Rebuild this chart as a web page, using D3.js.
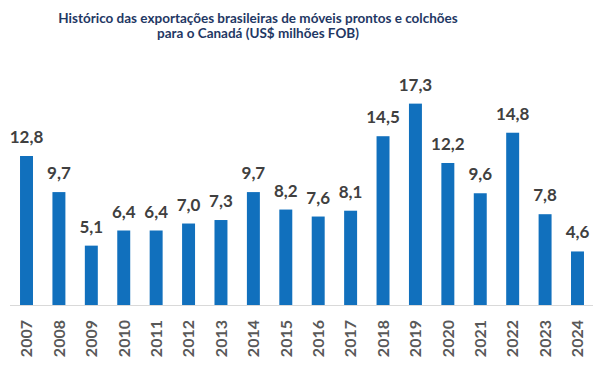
<!DOCTYPE html>
<html>
<head>
<meta charset="utf-8">
<script src="https://cdn.jsdelivr.net/npm/d3@7"></script>
<style>
  body { margin: 0; background: #fff; }
  svg { display: block; }
</style>
</head>
<body>
<svg id="chart" width="610" height="370"></svg>
<script>
const years = ["2007", "2008", "2009", "2010", "2011", "2012", "2013", "2014", "2015",
  "2016", "2017", "2018", "2019", "2020", "2021", "2022", "2023", "2024"];
const values = [12.8, 9.7, 5.1, 6.4, 6.4, 7.0, 7.3, 9.7, 8.2, 7.6, 8.1, 14.5, 17.3, 12.2, 9.6, 14.8, 7.8, 4.6];
const titleLines = [
  "Histórico das exportações brasileiras de móveis prontos e colchões",
  "para o Canadá (US$ milhões FOB)"
];

const svg = d3.select("#chart");
const font = "Lato, 'Open Sans', sans-serif";

const x = d3.scaleBand()
  .domain(years)
  .range([10.3, 593.7])
  .paddingInner(0.6)
  .paddingOuter(0.3);

const y = d3.scaleLinear()
  .domain([0, 20])
  .range([305, 72.2]);

// title
svg.append("text")
  .attr("x", 258)
  .attr("y", 23)
  .attr("text-anchor", "middle")
  .style("font-family", font)
  .style("font-weight", "bold")
  .style("font-size", "13.5px")
  .style("fill", "#1f3864")
  .selectAll("tspan")
  .data(titleLines)
  .enter()
  .append("tspan")
  .attr("x", 258)
  .attr("dy", (d, i) => i === 0 ? 0 : 15)
  .text(d => d);

// bars
svg.selectAll("rect.bar")
  .data(values)
  .enter()
  .append("rect")
  .attr("class", "bar")
  .attr("x", (d, i) => x(years[i]))
  .attr("y", d => y(d))
  .attr("width", x.bandwidth())
  .attr("height", d => y(0) - y(d))
  .style("fill", "#1170bd");

// value labels
svg.selectAll("text.val")
  .data(values)
  .enter()
  .append("text")
  .attr("class", "val")
  .attr("x", (d, i) => x(years[i]) + x.bandwidth() / 2)
  .attr("y", d => y(d) - 13)
  .attr("text-anchor", "middle")
  .style("font-family", font)
  .style("font-weight", "bold")
  .style("font-size", "17px")
  .style("fill", "#404040")
  .text(d => d.toFixed(1).replace(".", ","));

// x axis
const xAxis = svg.append("g")
  .attr("transform", `translate(0,${y(0)})`)
  .call(d3.axisBottom(x).tickSize(0).tickPadding(0));

xAxis.select(".domain")
  .attr("d", `M10,0.5H593`)
  .style("stroke", "#d9d9d9");

xAxis.selectAll(".tick text")
  .attr("transform", "rotate(-90)")
  .attr("x", -15)
  .attr("y", 0)
  .attr("dy", "0.36em")
  .attr("text-anchor", "end")
  .style("font-family", font)
  .style("font-weight", "bold")
  .style("font-size", "16px")
  .style("fill", "#595959");
</script>
</body>
</html>
